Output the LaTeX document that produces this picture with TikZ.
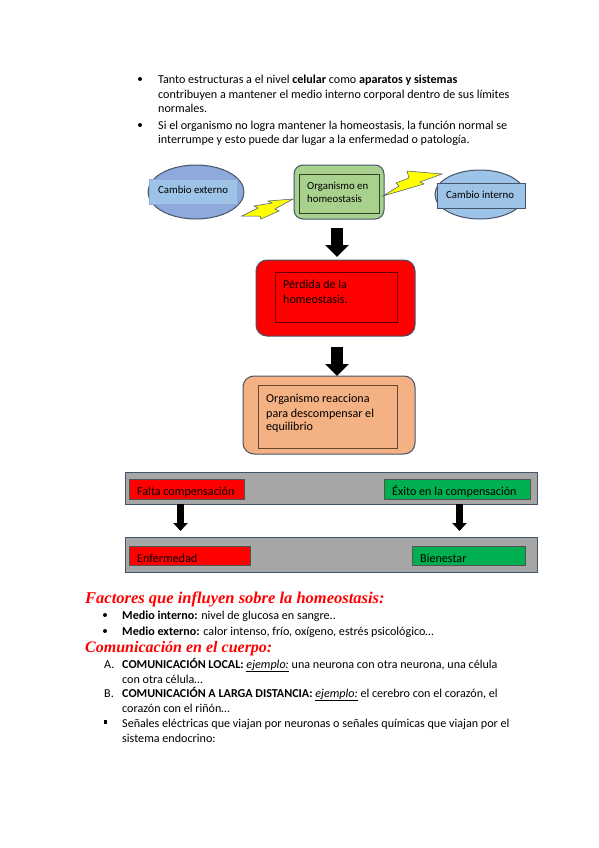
\documentclass[tikz,border=0pt]{standalone}
\usepackage{fontspec}
\setmainfont{Carlito}
\newfontfamily\headfont{Liberation Serif}
\usetikzlibrary{arrows.meta}
\definecolor{outl}{HTML}{44546A}
\definecolor{ellA}{HTML}{8EA9DB}
\definecolor{rectA}{HTML}{9DC3E6}
\definecolor{grn}{HTML}{A9D18E}
\definecolor{org}{HTML}{F4B183}
\definecolor{gry}{HTML}{A6A6A6}
\definecolor{gooda}{HTML}{00B050}
\definecolor{hd}{HTML}{FF0000}
\definecolor{bolt}{HTML}{FFFF00}
\tikzset{
 txt/.style={anchor=base west,inner sep=0pt,font=\fontsize{12.1}{14}\selectfont},
 lab/.style={anchor=base west,inner sep=0pt,font=\fontsize{12.1}{14}\selectfont},
 smalllab/.style={anchor=base west,inner sep=0pt,font=\fontsize{10.8}{13}\selectfont},
 head/.style={anchor=base west,inner sep=0pt,text=hd,font=\headfont\bfseries\itshape\fontsize{#1}{18}\selectfont},
 dot/.style={circle,fill=black,inner sep=0pt,minimum size=4pt},
 sq/.style={rectangle,fill=black,inner sep=0pt,minimum size=3.5pt},
 box/.style={draw=#1,line width=0.8pt},
 round box/.style={draw=outl,line width=1pt,rounded corners=9pt},
 bolt shape/.style={draw=outl,line width=0.5pt,fill=bolt},
 bigarrow/.style={draw=black,line width=11.5pt,-{Triangle[width=23pt,length=12pt]}},
 smallarrow/.style={draw=black,line width=6.5pt,-{Triangle[width=14pt,length=8pt]}},
}
\begin{document}
\begin{tikzpicture}[x=1pt,y=-1pt]
\useasboundingbox (0,0) rectangle (599,848);
\fill[white] (0,0) rectangle (599,848);
% top text
\node[dot] (b1) at (140,79) {};
\node[txt] (t1) at (158,84) {Tanto estructuras a el nivel \textbf{celular} como \textbf{aparatos y sistemas}};
\node[txt] (t2) at (158,99) {contribuyen a mantener el medio interno corporal dentro de sus límites};
\node[txt] (t3) at (158,113) {normales.};
\node[dot] (b2) at (140,125) {};
\node[txt] (t4) at (158,129) {Si el organismo no logra mantener la homeostasis, la función normal se};
\node[txt] (t5) at (158,143) {interrumpe y esto puede dar lugar a la enfermedad o patología.};
% ellipses
\draw[draw=outl,line width=1pt,fill=ellA] (196,192) ellipse [x radius=48,y radius=27];
\node[fill=rectA,draw=ellA,line width=0.8pt,minimum width=88pt,minimum height=25pt,inner sep=0pt] (ce) at (193,191.5) {};
\node[smalllab] (cet) at (158,193) {Cambio externo};
\draw[draw=outl,line width=1pt,fill=rectA] (480,194.5) ellipse [x radius=45,y radius=24.5];
\node[fill=rectA,draw=outl,line width=0.8pt,minimum width=88pt,minimum height=25pt,inner sep=0pt] (ci) at (481,195.5) {};
\node[smalllab] (cit) at (446,198) {Cambio interno};
% green
\node[fill=grn,round box,minimum width=90pt,minimum height=54pt,inner sep=0pt] (g) at (339,192) {};
\node[fill=grn,box=black!70!grn,minimum width=80pt,minimum height=39pt,inner sep=0pt] (gi) at (339,193.5) {};
\node[smalllab] (g1) at (307,189) {Organismo en};
\node[smalllab] (g2) at (307,202) {homeostasis};
% bolts
\draw[bolt shape] (242,216) -- (258,208) -- (254,206) -- (272,203) -- (268,201) -- (293,199) -- (275,209) -- (279,211) -- (261,219) -- (260,216) -- cycle;
\draw[bolt shape] (383,196) -- (399,186) -- (396,183) -- (409,178) -- (407,171) -- (442,174) -- (420,182) -- (424,184) -- cycle;
% red
\node[fill=hd,round box,minimum width=159pt,minimum height=76pt,inner sep=0pt,rounded corners=11pt] (r) at (335.5,298) {};
\node[box=black!60!hd,minimum width=122pt,minimum height=50pt,inner sep=0pt] (ri) at (336,297) {};
\node[lab] (r1) at (283,288) {Pérdida de la};
\node[lab] (r2) at (283,303) {homeostasis.};
% orange
\node[fill=org,round box,minimum width=172pt,minimum height=78pt,inner sep=0pt,rounded corners=11pt] (o) at (329,415) {};
\node[box=black!60!org,minimum width=139pt,minimum height=63pt,inner sep=0pt] (oi) at (327.5,416.5) {};
\node[lab] (o1) at (266,402) {Organismo reacciona};
\node[lab] (o2) at (266,417) {para descompensar el};
\node[lab] (o3) at (266,430) {equilibrio};
% bars
\node[fill=gry,box=outl,line width=1pt,minimum width=412pt,minimum height=32pt,inner sep=0pt] (bar1) at (331,488) {};
\node[fill=gry,box=outl,line width=1pt,minimum width=412pt,minimum height=35pt,inner sep=0pt] (bar2) at (331,554.5) {};
\node[fill=hd,box=black!50!gry,minimum width=115pt,minimum height=20pt,inner sep=0pt] (fc) at (186.5,489) {};
\node[lab] (fct) at (137,495) {Falta compensación};
\node[fill=gooda,box=black!50!gry,minimum width=146pt,minimum height=20pt,inner sep=0pt] (ec) at (457,489) {};
\node[lab] (ect) at (392,495) {Éxito en la compensación};
\node[fill=hd,box=black!50!gry,minimum width=121pt,minimum height=19pt,inner sep=0pt] (en) at (189.5,555.5) {};
\node[lab] (ent) at (137,562) {Enfermedad};
\node[fill=gooda,box=black!50!gry,minimum width=113pt,minimum height=19pt,inner sep=0pt] (bi) at (468.5,555.5) {};
\node[lab] (bit) at (420,562) {Bienestar};
% arrows
\coordinate (a1s) at (337,228); \coordinate (a1e) at (337,257);
\coordinate (a2s) at (337,347); \coordinate (a2e) at (337,376);
\coordinate (a3s) at (180.5,504); \coordinate (a3e) at (180.5,531);
\coordinate (a4s) at (459.5,504); \coordinate (a4e) at (459.5,531);
\draw[bigarrow] (a1s) -- (a1e);
\draw[bigarrow] (a2s) -- (a2e);
\draw[smallarrow] (a3s) -- (a3e);
\draw[smallarrow] (a4s) -- (a4e);
% bottom text
\node[head=16.5] (h1) at (85,603) {Factores que influyen sobre la homeostasis:};
\node[dot] (b3) at (105,615) {};
\node[txt] (m1) at (122,619) {\textbf{Medio interno:} nivel de glucosa en sangre..};
\node[dot] (b4) at (105,631) {};
\node[txt] (m2) at (122,635) {\textbf{Medio externo:} calor intenso, frío, oxígeno, estrés psicológico\dots};
\node[head=16] (h2) at (85,652) {Comunicación en el cuerpo:};
\node[txt] (la) at (104,668) {A.};
\node[txt] (c1) at (122,668) {\textbf{COMUNICACIÓN LOCAL:} \underline{\textit{ejemplo:}} una neurona con otra neurona, una célula};
\node[txt] (c2) at (122,683) {con otra célula\dots};
\node[txt] (lb) at (104,697) {B.};
\node[txt] (c3) at (122,697) {\textbf{COMUNICACIÓN A LARGA DISTANCIA:} \underline{\textit{ejemplo:}} el cerebro con el corazón, el};
\node[txt] (c4) at (122,712) {corazón con el riñón\dots};
\node[sq] (b5) at (105.5,722) {};
\node[txt] (c5) at (122,727) {Señales eléctricas que viajan por neuronas o señales químicas que viajan por el};
\node[txt] (c6) at (122,742) {sistema endocrino:};
\end{tikzpicture}
\end{document}
